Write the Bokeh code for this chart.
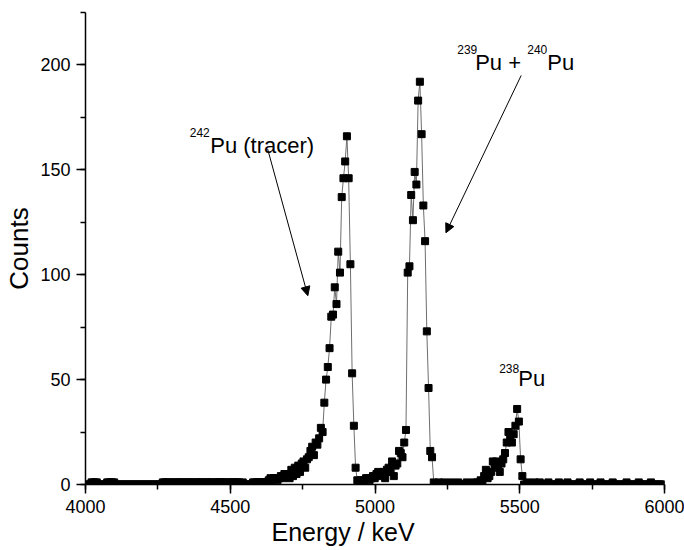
import numpy as np
from bokeh.plotting import figure
from bokeh.models import (ColumnDataSource, Range1d, SingleIntervalTicker, Label,
                          Arrow, NormalHead, Title)
from bokeh.embed import file_html
from bokeh.resources import INLINE

# ---- data: alpha spectrum, one value per channel ----
first_channel_kev = 4003.0   # energy calibration of channel 0
channel_width_kev = 6.0      # keV per channel

counts = [
    0, 0, 0, 1, 1, 1, 1, 0, 0, 0,          # 4003-
    0, 0, 1, 1, 1, 1, 1, 0, 0, 0,
    0, 0, 0, 0, 0, 0, 0, 0, 0, 0,
    0, 0, 0, 0, 0, 0, 0, 0, 0, 0,
    0, 0, 0, 0, 1, 1, 1, 1, 0, 1,
    1, 1, 0, 1, 1, 1, 1, 0, 1, 1,
    1, 1, 0, 1, 1, 1, 1, 1, 0, 1,
    1, 1, 1, 0, 1, 1, 1, 1, 1, 1,
    1, 0, 1, 1, 1, 1, 1, 1, 1, 0,
    1, 0, 0, 0, 0, 0, 1, 1, 1, 1,
    1, 1, 1, 1, 1, 2, 3, 2, 3, 3,          # 4603-
    2, 3, 4, 3, 5, 4, 5, 3, 7, 4,
    8, 5, 9, 6, 10, 11, 8, 12, 13, 16,
    18, 14, 20, 19, 22, 27, 25, 39, 50, 56,
    65, 80, 81, 94, 86, 111, 101, 137, 146, 154,
    166, 146, 105, 53, 28, 8, 2, 1, 2, 1,  # 4903- (242Pu)
    2, 3, 3, 2, 3, 4, 3, 5, 6, 4,
    5, 6, 3, 7, 8, 6, 11, 4, 9, 10,
    16, 15, 13, 20, 26, 101, 104, 138, 126, 149,
    143, 183, 192, 167, 133, 116, 73, 46, 16, 13,  # 5143- (239+240Pu)
    1, 0, 0, 1, 0, 0, 1, 0, 0, 0,
    1, 0, 0, 0, 1, 0, 0, 0, 0, 1,
    0, 0, 0, 1, 0, 1, 0, 2, 1, 4,
    7, 3, 4, 6, 11, 8, 11, 9, 6, 10,
    12, 15, 20, 25, 22, 20, 24, 28, 36, 30,        # 5443- (238Pu)
    12, 4, 0, 0, 1, 0, 0, 0, 1, 0,
    0, 1, 0, 0, 0, 0, 1, 0, 0, 0,
    0, 0, 1, 0, 0, 0, 0, 1, 0, 0,
    0, 0, 0, 0, 1, 0, 0, 0, 0, 0,
    1, 0, 0, 0, 0, 0, 1, 0, 0, 0,
    0, 0, 0, 1, 0, 0, 0, 0, 0, 0,
    0, 1, 0, 0, 0, 0, 0, 0, 1, 0,
    0, 0, 0, 0, 0, 1, 0, 0, 0, 0,
    0, 0, 0,
]
energy_kev = first_channel_kev + channel_width_kev * np.arange(len(counts))

x_axis_range = (4000, 6000)
y_axis_range = (0, 225)
x_tick_step = 500
y_tick_step = 50
x_title = "Energy / keV"
y_title = "Counts"

FONT = "Liberation Sans"

src = ColumnDataSource(data=dict(energy=energy_kev, counts=counts))

p = figure(width=684, height=550, output_backend="svg", toolbar_location=None,
           x_range=Range1d(*x_axis_range), y_range=Range1d(*y_axis_range),
           min_border_left=85, min_border_right=20, min_border_top=12,
           min_border_bottom=66)
p.outline_line_color = None
p.grid.visible = False
p.background_fill_color = "white"
p.border_fill_color = "white"

p.line(x="energy", y="counts", source=src, line_color="#6e6e6e", line_width=1)
p.scatter(x="energy", y="counts", source=src, marker="square", size=7,
          fill_color="black", line_color="black")

p.xaxis.ticker = SingleIntervalTicker(interval=x_tick_step, num_minor_ticks=2)
p.yaxis.ticker = SingleIntervalTicker(interval=y_tick_step, num_minor_ticks=2)
for ax in (p.xaxis[0], p.yaxis[0]):
    ax.axis_line_color = "black"
    ax.axis_line_width = 1.5
    ax.major_tick_line_width = 1.5
    ax.minor_tick_line_width = 1.5
    ax.major_tick_in = 0
    ax.major_tick_out = 9
    ax.minor_tick_in = 0
    ax.minor_tick_out = 5
    ax.major_label_text_font = FONT
    ax.major_label_text_font_size = "18px"
    ax.major_label_text_color = "black"
    ax.axis_label_text_font = FONT
    ax.axis_label_text_font_size = "26px"
    ax.axis_label_text_font_style = "normal"
    ax.axis_label_text_color = "black"
p.yaxis.axis_label = y_title
p.xaxis.major_label_standoff = 6
p.yaxis.major_label_standoff = 6
p.yaxis.axis_label_standoff = 3

# x-axis title, slightly left of centre as in the original
p.add_layout(Title(text=x_title, align="left", offset=186, standoff=0,
                   text_font=FONT, text_font_size="25px",
                   text_font_style="normal", text_color="black"), "below")


def label(x, y, text, size):
    p.add_layout(Label(x=x, y=y, text=text, text_font=FONT, text_font_size=size,
                       text_color="black", text_baseline="alphabetic",
                       text_align="left"))


# annotations
label(4360, 168, "242", "12px")
label(4431, 161.5, "Pu (tracer)", "22px")
label(5284, 207.5, "239", "12px")
label(5346, 201, "Pu +", "22px")
label(5526, 207.5, "240", "12px")
label(5595, 201, "Pu", "22px")
label(5429, 55.5, "238", "12px")
label(5495, 50.5, "Pu", "22px")

p.add_layout(Arrow(end=NormalHead(size=9, fill_color="black", line_color="black"),
                   x_start=4629, y_start=160, x_end=4768, y_end=90,
                   line_color="black", line_width=1))
p.add_layout(Arrow(end=NormalHead(size=9, fill_color="black", line_color="black"),
                   x_start=5505, y_start=195, x_end=5245, y_end=120,
                   line_color="black", line_width=1))

open("out.html", "w").write(file_html(p, INLINE))
